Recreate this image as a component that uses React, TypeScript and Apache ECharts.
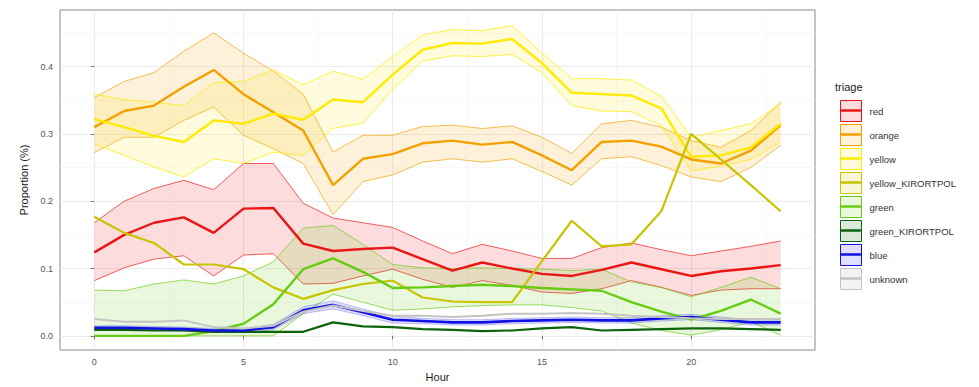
import { useEffect, useRef } from 'react';
import * as echarts from 'echarts';

const HOURS = [0, 1, 2, 3, 4, 5, 6, 7, 8, 9, 10, 11, 12, 13, 14, 15, 16, 17, 18, 19, 20, 21, 22, 23];
const X_TICKS = [0, 5, 10, 15, 20];
const Y_TICKS = [0, 0.1, 0.2, 0.3, 0.4];

const RED = [0.124, 0.150, 0.168, 0.176, 0.153, 0.189, 0.190, 0.137, 0.126, 0.129, 0.131, 0.114, 0.097, 0.109, 0.100, 0.092, 0.089, 0.098, 0.109, 0.099, 0.089, 0.096, 0.100, 0.105];
const RED_HI = [0.168, 0.200, 0.219, 0.231, 0.217, 0.256, 0.256, 0.197, 0.175, 0.168, 0.161, 0.141, 0.122, 0.136, 0.126, 0.115, 0.115, 0.131, 0.138, 0.128, 0.119, 0.126, 0.133, 0.141];
const RED_LO = [0.082, 0.101, 0.114, 0.119, 0.089, 0.120, 0.122, 0.077, 0.078, 0.089, 0.099, 0.084, 0.072, 0.082, 0.075, 0.065, 0.063, 0.070, 0.082, 0.072, 0.060, 0.068, 0.070, 0.070];

const ORANGE = [0.310, 0.334, 0.342, 0.370, 0.395, 0.359, 0.332, 0.305, 0.224, 0.263, 0.270, 0.286, 0.290, 0.284, 0.288, 0.268, 0.246, 0.288, 0.290, 0.281, 0.262, 0.256, 0.275, 0.313];
const ORANGE_HI = [0.354, 0.378, 0.391, 0.423, 0.450, 0.420, 0.393, 0.359, 0.273, 0.298, 0.298, 0.311, 0.313, 0.308, 0.312, 0.295, 0.271, 0.315, 0.320, 0.310, 0.290, 0.280, 0.305, 0.347];
const ORANGE_LO = [0.272, 0.295, 0.295, 0.320, 0.340, 0.298, 0.278, 0.256, 0.180, 0.229, 0.239, 0.258, 0.263, 0.258, 0.263, 0.244, 0.224, 0.263, 0.266, 0.253, 0.236, 0.229, 0.250, 0.283];

const YELLOW = [0.322, 0.310, 0.297, 0.288, 0.320, 0.315, 0.330, 0.321, 0.351, 0.347, 0.388, 0.425, 0.435, 0.434, 0.441, 0.405, 0.361, 0.359, 0.357, 0.338, 0.266, 0.268, 0.280, 0.315];
const YELLOW_HI = [0.359, 0.351, 0.347, 0.342, 0.376, 0.378, 0.395, 0.373, 0.393, 0.381, 0.415, 0.447, 0.455, 0.453, 0.461, 0.420, 0.382, 0.382, 0.380, 0.356, 0.295, 0.305, 0.315, 0.345];
const YELLOW_LO = [0.285, 0.268, 0.251, 0.236, 0.263, 0.256, 0.273, 0.268, 0.308, 0.316, 0.366, 0.408, 0.416, 0.415, 0.418, 0.391, 0.342, 0.334, 0.333, 0.312, 0.245, 0.252, 0.262, 0.288];

const YELLOW_KIR = [0.177, 0.153, 0.138, 0.106, 0.106, 0.099, 0.072, 0.055, 0.068, 0.077, 0.082, 0.057, 0.051, 0.050, 0.050, 0.111, 0.171, 0.133, 0.136, 0.185, 0.300, 0.262, 0.224, 0.185];

const GREEN = [0.0, 0.0, 0.0, 0.0, 0.007, 0.018, 0.047, 0.099, 0.115, 0.095, 0.071, 0.072, 0.074, 0.076, 0.074, 0.071, 0.069, 0.067, 0.050, 0.036, 0.024, 0.037, 0.054, 0.033];
const GREEN_HI = [0.068, 0.067, 0.077, 0.083, 0.077, 0.089, 0.110, 0.160, 0.164, 0.136, 0.106, 0.101, 0.100, 0.101, 0.100, 0.099, 0.097, 0.099, 0.080, 0.072, 0.058, 0.072, 0.087, 0.070];
const GREEN_LO = [0.0, 0.0, 0.0, 0.0, 0.0, 0.0, 0.0, 0.033, 0.062, 0.050, 0.038, 0.040, 0.043, 0.045, 0.046, 0.046, 0.042, 0.037, 0.019, 0.008, 0.001, 0.009, 0.021, 0.001];

const GREEN_KIR = [0.009, 0.009, 0.008, 0.008, 0.006, 0.006, 0.006, 0.006, 0.020, 0.014, 0.013, 0.010, 0.009, 0.007, 0.008, 0.011, 0.013, 0.008, 0.009, 0.010, 0.011, 0.011, 0.010, 0.009];

const BLUE = [0.012, 0.012, 0.011, 0.010, 0.008, 0.008, 0.013, 0.038, 0.046, 0.035, 0.024, 0.022, 0.020, 0.020, 0.022, 0.023, 0.024, 0.023, 0.023, 0.026, 0.028, 0.024, 0.020, 0.020];
const BLUE_HI = [0.015, 0.015, 0.014, 0.013, 0.011, 0.011, 0.017, 0.043, 0.052, 0.040, 0.029, 0.026, 0.024, 0.024, 0.026, 0.027, 0.028, 0.027, 0.027, 0.030, 0.032, 0.028, 0.024, 0.024];
const BLUE_LO = [0.009, 0.009, 0.008, 0.007, 0.005, 0.005, 0.009, 0.033, 0.040, 0.030, 0.019, 0.018, 0.016, 0.016, 0.018, 0.019, 0.020, 0.019, 0.019, 0.022, 0.024, 0.020, 0.016, 0.016];

const UNKNOWN = [0.025, 0.021, 0.021, 0.023, 0.013, 0.011, 0.015, 0.036, 0.045, 0.037, 0.030, 0.030, 0.028, 0.030, 0.033, 0.033, 0.034, 0.033, 0.030, 0.028, 0.026, 0.025, 0.025, 0.025];

const FONT = '"Liberation Sans", Arial, Helvetica, sans-serif';

type Cls = {
  name: string;
  color: string;
  fill: string;
  values: number[];
  lo?: number[];
  hi?: number[];
  width: number;
  edgeOpacity: number;
};

const CLASSES: Cls[] = [
  { name: 'red', color: '#ea1515', fill: 'rgba(234,21,21,0.15)', values: RED, lo: RED_LO, hi: RED_HI, width: 2.4, edgeOpacity: 0.85 },
  { name: 'orange', color: '#f3a000', fill: 'rgba(243,160,0,0.15)', values: ORANGE, lo: ORANGE_LO, hi: ORANGE_HI, width: 2.4, edgeOpacity: 0.85 },
  { name: 'yellow', color: '#ffea00', fill: 'rgba(255,234,0,0.13)', values: YELLOW, lo: YELLOW_LO, hi: YELLOW_HI, width: 2.4, edgeOpacity: 0.9 },
  { name: 'yellow_KIRORTPOL', color: '#c8c400', fill: 'rgba(200,196,0,0.15)', values: YELLOW_KIR, width: 2.2, edgeOpacity: 0.85 },
  { name: 'green', color: '#66cc11', fill: 'rgba(102,204,17,0.14)', values: GREEN, lo: GREEN_LO, hi: GREEN_HI, width: 2.4, edgeOpacity: 0.85 },
  { name: 'green_KIRORTPOL', color: '#0b640b', fill: 'rgba(11,100,11,0.15)', values: GREEN_KIR, width: 2.2, edgeOpacity: 0.85 },
  { name: 'blue', color: '#1010e6', fill: 'rgba(16,16,230,0.13)', values: BLUE, lo: BLUE_LO, hi: BLUE_HI, width: 2.6, edgeOpacity: 0.3 },
  { name: 'unknown', color: '#c4c4c4', fill: 'rgba(196,196,196,0.2)', values: UNKNOWN, width: 2.0, edgeOpacity: 0.85 },
];

function ribbon(c: Cls) {
  const lo = c.lo as number[];
  const hi = c.hi as number[];
  return {
    type: 'custom',
    name: c.name + ' ribbon',
    coordinateSystem: 'cartesian2d',
    silent: true,
    z: 2,
    data: HOURS.map((h, i) => [h, lo[i], hi[i]]),
    encode: { x: 0, y: [1, 2] },
    renderItem: (params: any, api: any) => {
      if (params.dataIndex !== 0) return null;
      const upper = HOURS.map((h, i) => api.coord([h, hi[i]]));
      const lower = HOURS.map((h, i) => api.coord([h, lo[i]]));
      return {
        type: 'group',
        children: [
          { type: 'polygon', shape: { points: upper.concat(lower.slice().reverse()) }, style: { fill: c.fill, stroke: null } },
          { type: 'polyline', shape: { points: upper }, style: { stroke: c.color, lineWidth: 0.8, fill: null, opacity: c.edgeOpacity } },
          { type: 'polyline', shape: { points: lower }, style: { stroke: c.color, lineWidth: 0.8, fill: null, opacity: c.edgeOpacity } },
        ],
      };
    },
  };
}

function line(c: Cls) {
  return {
    type: 'line',
    name: c.name,
    z: 3,
    symbol: 'none',
    showSymbol: false,
    silent: true,
    color: c.color,
    lineStyle: { color: c.color, width: c.width },
    data: HOURS.map((h, i) => [h, c.values[i]]),
  };
}

export default function App() {
  const ref = useRef<HTMLDivElement>(null);
  useEffect(() => {
    if (!ref.current) return;
    const chart = echarts.init(ref.current, undefined, { renderer: 'svg' });
    const legendCommon = {
      orient: 'vertical',
      left: 840,
      top: 100,
      itemWidth: 21,
      itemHeight: 21,
      selectedMode: false,
      padding: 0,
    };
    chart.setOption({
      animation: false,
      backgroundColor: '#ffffff',
      textStyle: { fontFamily: FONT },
      title: {
        text: 'triage',
        left: 835,
        top: 81,
        padding: 0,
        textStyle: { fontSize: 11, fontWeight: 'normal', color: '#1a1a1a', fontFamily: FONT },
      },
      grid: {
        left: 60,
        top: 10,
        width: 755,
        height: 343,
        show: true,
        backgroundColor: '#ffffff',
        borderColor: '#8a8a8a',
        borderWidth: 1,
        containLabel: false,
      },
      xAxis: {
        type: 'value',
        min: -1.15,
        max: 24.15,
        name: 'Hour',
        nameLocation: 'middle',
        nameGap: 21,
        nameTextStyle: { fontSize: 11, color: '#1a1a1a', fontFamily: FONT },
        axisLine: { show: false },
        axisTick: { show: true, length: 3.5, customValues: X_TICKS, lineStyle: { color: '#555555', width: 0.8 } },
        axisLabel: { customValues: X_TICKS, fontSize: 9, color: '#555555', margin: 7, fontFamily: FONT },
        splitLine: { show: true, lineStyle: { color: '#ebebeb', width: 1 } },
        minorTick: { show: false, splitNumber: 2 },
        minorSplitLine: { show: true, lineStyle: { color: '#f3f3f3', width: 0.6 } },
      },
      yAxis: {
        type: 'value',
        min: -0.021,
        max: 0.484,
        name: 'Proportion (%)',
        nameLocation: 'middle',
        nameGap: 30,
        nameTextStyle: { fontSize: 11, color: '#1a1a1a', fontFamily: FONT },
        axisLine: { show: false },
        axisTick: { show: true, length: 3.5, customValues: Y_TICKS, lineStyle: { color: '#555555', width: 0.8 } },
        axisLabel: {
          customValues: Y_TICKS,
          fontSize: 9,
          color: '#555555',
          margin: 7,
          fontFamily: FONT,
          formatter: (v: number) => v.toFixed(1),
        },
        splitLine: { show: true, lineStyle: { color: '#ebebeb', width: 1 } },
        minorTick: { show: false, splitNumber: 2 },
        minorSplitLine: { show: true, lineStyle: { color: '#f3f3f3', width: 0.6 } },
      },
      legend: [
        {
          ...legendCommon,
          itemGap: 2,
          data: CLASSES.map((c) => ({
            name: c.name,
            icon: 'rect',
            itemStyle: { color: c.fill, borderColor: c.color, borderWidth: 1 },
          })),
          textStyle: { fontSize: 9.5, color: '#333333', fontFamily: FONT, padding: [0, 0, 0, 3] },
        },
        {
          ...legendCommon,
          itemGap: 3,
          data: CLASSES.map((c) => ({
            name: c.name,
            icon: 'path://M0,0h0.01v0.01h-0.01Z M0,9.5H21V11.8H0Z M0,21.3h0.01v0.01h-0.01Z',
            itemStyle: { color: c.color, borderWidth: 0 },
          })),
          formatter: () => '',
          textStyle: { fontSize: 9.5, fontFamily: FONT },
        },
      ],
      series: [
        ...CLASSES.filter((c) => c.lo && c.hi).map(ribbon),
        ...CLASSES.map(line),
      ],
    });
    return () => chart.dispose();
  }, []);
  return <div ref={ref} style={{ position: 'fixed', left: 0, top: 0, width: 979, height: 387 }} />;
}
